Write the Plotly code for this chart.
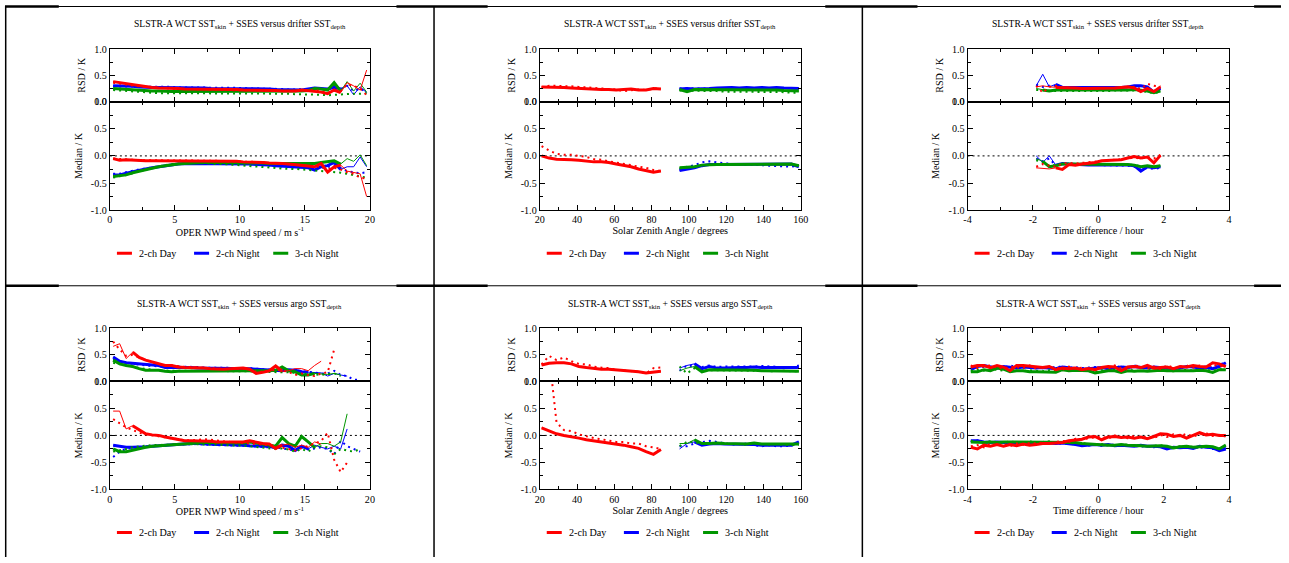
import plotly.graph_objects as go

FONT = "Liberation Serif, Times New Roman, serif"
W, H = 1289, 563
# measured mapping between page pixels and the photographed picture
SHOT_SX, SHOT_OX = 0.988, 6.3
SHOT_SY, SHOT_OY = 0.9795, 5.0
RED, BLUE, GREEN = "#ff0000", "#0000ff", "#009600"

# ---------------- x bins ----------------
WIND_X_DRIFTER = [0.25, 0.75, 1.25, 1.75, 2.25, 2.75, 3.25, 3.75, 4.25, 4.75,
                  5.25, 5.75, 6.25, 6.75, 7.25, 7.75, 8.25, 8.75, 9.25, 9.75,
                  10.25, 10.75, 11.25, 11.75, 12.25, 12.75, 13.25, 13.75, 14.25, 14.75,
                  15.25, 15.75, 16.25, 16.75, 17.25, 17.75, 18.25, 18.75, 19.25, 19.75]
WIND_X_ARGO = WIND_X_DRIFTER[:39]
SZA_DAY_X = [21, 25, 29, 33, 37, 41, 45, 49, 53, 57, 61, 65, 69, 73, 77, 81, 85]
SZA_NIGHT_X = [95, 99, 103, 107, 111, 115, 119, 123, 127, 131, 135, 139, 143, 147, 151, 155, 159]
TIME_X_DRIFTER = [-1.9, -1.7, -1.5, -1.3, -1.1, -0.9, -0.7, -0.5, -0.3, -0.1,
                  0.1, 0.3, 0.5, 0.7, 0.9, 1.1, 1.3, 1.5, 1.7, 1.9]
TIME_X_ARGO = [-3.9, -3.7, -3.5, -3.3, -3.1, -2.9, -2.7, -2.5, -2.3, -2.1,
               -1.9, -1.7, -1.5, -1.3, -1.1, -0.9, -0.7, -0.5, -0.3, -0.1,
               0.1, 0.3, 0.5, 0.7, 0.9, 1.1, 1.3, 1.5, 1.7, 1.9,
               2.1, 2.3, 2.5, 2.7, 2.9, 3.1, 3.3, 3.5, 3.7, 3.9]

# ---------------- Panel A: drifter vs wind speed ----------------
A_RSD_DAY = [0.38, 0.36, 0.35, 0.33, 0.30, 0.28, 0.27, 0.26, 0.26, 0.25,
             0.25, 0.24, 0.24, 0.24, 0.24, 0.24, 0.23, 0.23, 0.23, 0.23,
             0.22, 0.22, 0.22, 0.21, 0.21, 0.21, 0.20, 0.20, 0.20, 0.22,
             0.21, 0.20, 0.18, 0.15, 0.22, 0.17, 0.36, 0.30, 0.22, 0.60]
A_RSD_DAY_DOT = [0.36, 0.34, 0.33, 0.31, 0.29, 0.28, 0.27, 0.26, 0.25, 0.25,
                 0.24, 0.24, 0.24, 0.23, 0.23, 0.23, 0.23, 0.22, 0.22, 0.22,
                 0.22, 0.22, 0.21, 0.21, 0.21, 0.20, 0.20, 0.20, 0.21, 0.20,
                 0.21, 0.22, 0.20, 0.17, 0.20, 0.20, 0.33, 0.30, 0.25, 0.12]
A_RSD_N2 = [0.30, 0.30, 0.29, 0.29, 0.28, 0.27, 0.27, 0.27, 0.27, 0.26,
            0.26, 0.26, 0.26, 0.26, 0.26, 0.25, 0.25, 0.25, 0.25, 0.25,
            0.25, 0.25, 0.24, 0.24, 0.24, 0.23, 0.23, 0.22, 0.22, 0.22,
            0.24, 0.26, 0.25, 0.24, 0.27, 0.24, 0.30, 0.13, 0.28, 0.17]
A_RSD_N2_DOT = [0.29, 0.29, 0.28, 0.28, 0.28, 0.28, 0.28, 0.28, 0.28, 0.28,
                0.27, 0.27, 0.27, 0.27, 0.27, 0.27, 0.26, 0.26, 0.26, 0.26,
                0.26, 0.25, 0.25, 0.25, 0.24, 0.24, 0.24, 0.23, 0.23, 0.23,
                0.24, 0.24, 0.23, 0.24, 0.25, 0.24, 0.30, 0.20, 0.25, 0.18]
A_RSD_N3 = [0.25, 0.24, 0.23, 0.22, 0.21, 0.20, 0.20, 0.20, 0.19, 0.19,
            0.19, 0.19, 0.19, 0.19, 0.19, 0.19, 0.19, 0.19, 0.19, 0.19,
            0.19, 0.19, 0.19, 0.19, 0.19, 0.19, 0.19, 0.19, 0.19, 0.20,
            0.21, 0.25, 0.24, 0.22, 0.36, 0.20, 0.38, 0.20, 0.35, 0.18]
A_RSD_N3_DOT = [0.22, 0.21, 0.20, 0.19, 0.18, 0.17, 0.17, 0.16, 0.16, 0.16,
                0.16, 0.16, 0.16, 0.16, 0.16, 0.16, 0.16, 0.16, 0.16, 0.16,
                0.16, 0.16, 0.16, 0.16, 0.15, 0.15, 0.15, 0.15, 0.14, 0.14,
                0.14, 0.14, 0.13, 0.12, 0.13, 0.13, 0.14, 0.15, 0.15, 0.16]
A_MED_DAY = [-0.05, -0.08, -0.07, -0.08, -0.09, -0.09, -0.09, -0.09, -0.09, -0.09,
             -0.09, -0.09, -0.09, -0.09, -0.10, -0.10, -0.10, -0.10, -0.10, -0.10,
             -0.11, -0.11, -0.12, -0.12, -0.13, -0.13, -0.14, -0.15, -0.16, -0.17,
             -0.18, -0.20, -0.14, -0.30, -0.20, -0.17, -0.28, -0.30, -0.33, -0.75]
A_MED_DAY_DOT = [-0.05, -0.06, -0.07, -0.07, -0.08, -0.08, -0.08, -0.08, -0.08, -0.08,
                 -0.08, -0.08, -0.09, -0.09, -0.09, -0.09, -0.09, -0.10, -0.10, -0.10,
                 -0.10, -0.11, -0.11, -0.12, -0.13, -0.14, -0.15, -0.16, -0.17, -0.18,
                 -0.19, -0.20, -0.20, -0.24, -0.22, -0.25, -0.30, -0.33, -0.40, -0.42]
A_MED_N2 = [-0.35, -0.35, -0.32, -0.29, -0.26, -0.24, -0.22, -0.20, -0.18, -0.16,
            -0.15, -0.14, -0.14, -0.14, -0.14, -0.14, -0.14, -0.14, -0.14, -0.15,
            -0.15, -0.15, -0.16, -0.16, -0.17, -0.18, -0.19, -0.20, -0.21, -0.22,
            -0.22, -0.26, -0.20, -0.18, -0.12, -0.25, -0.20, -0.20, -0.02, -0.20]
A_MED_N2_DOT = [-0.33, -0.33, -0.30, -0.27, -0.25, -0.23, -0.21, -0.19, -0.17, -0.16,
                -0.15, -0.14, -0.14, -0.14, -0.14, -0.14, -0.15, -0.15, -0.15, -0.15,
                -0.15, -0.16, -0.16, -0.17, -0.18, -0.19, -0.20, -0.20, -0.21, -0.22,
                -0.22, -0.24, -0.22, -0.20, -0.18, -0.22, -0.28, -0.30, -0.32, -0.30]
A_MED_N3 = [-0.38, -0.37, -0.35, -0.31, -0.28, -0.25, -0.22, -0.20, -0.18, -0.16,
            -0.15, -0.14, -0.13, -0.12, -0.12, -0.12, -0.12, -0.12, -0.12, -0.12,
            -0.12, -0.13, -0.13, -0.13, -0.14, -0.14, -0.14, -0.15, -0.15, -0.14,
            -0.14, -0.14, -0.12, -0.10, -0.09, -0.15, -0.05, -0.10, 0.02, -0.18]
A_MED_N3_DOT = [-0.40, -0.38, -0.35, -0.32, -0.28, -0.25, -0.22, -0.19, -0.17, -0.15,
                -0.14, -0.13, -0.13, -0.13, -0.14, -0.14, -0.15, -0.15, -0.16, -0.17,
                -0.17, -0.18, -0.19, -0.20, -0.21, -0.22, -0.23, -0.24, -0.24, -0.25,
                -0.25, -0.26, -0.27, -0.28, -0.29, -0.31, -0.33, -0.35, -0.37, -0.40]
A_THICK = {"day": (0.25, 17.75), "n2": (0.25, 17.75), "n3": (0.25, 17.75)}

# ---------------- Panel D: argo vs wind speed ----------------
D_RSD_DAY = [0.66, 0.71, 0.43, 0.55, 0.45, 0.40, 0.37, 0.33, 0.30, 0.30,
             0.27, 0.26, 0.26, 0.25, 0.25, 0.24, 0.23, 0.23, 0.24, 0.24,
             0.25, 0.23, 0.15, 0.17, 0.20, 0.29, 0.19, 0.20, 0.24, 0.24,
             0.20, 0.30, 0.38, None, None, None, None, None, None]
D_RSD_DAY_DOT = [0.75, 0.60, 0.48, 0.50, 0.45, 0.40, 0.36, 0.33, 0.30, 0.30,
                 0.28, 0.27, 0.27, 0.26, 0.25, 0.25, 0.24, 0.24, 0.23, 0.24,
                 0.24, 0.22, 0.18, 0.18, 0.20, 0.22, 0.20, 0.18, 0.12, 0.15,
                 0.12, 0.10, 0.15, 0.17, 0.60, None, None, None, None]
D_RSD_N2 = [0.46, 0.38, 0.35, 0.34, 0.33, 0.32, 0.32, 0.30, 0.26, 0.26,
            0.27, 0.26, 0.26, 0.25, 0.25, 0.25, 0.25, 0.25, 0.25, 0.25,
            0.25, 0.24, 0.23, 0.22, 0.21, 0.20, 0.20, 0.22, 0.21, 0.18,
            0.17, 0.17, 0.16, 0.10, 0.15, 0.12, 0.10, None, None]
D_RSD_N2_DOT = [0.42, 0.37, 0.35, 0.33, 0.32, 0.30, 0.29, 0.28, 0.27, 0.27,
                0.28, 0.28, 0.27, 0.27, 0.26, 0.26, 0.26, 0.26, 0.25, 0.25,
                0.26, 0.25, 0.24, 0.23, 0.22, 0.21, 0.20, 0.22, 0.20, 0.19,
                0.18, 0.16, 0.15, 0.15, 0.20, 0.12, 0.10, 0.03, 0.03]
D_RSD_N3 = [0.40, 0.33, 0.30, 0.28, 0.24, 0.21, 0.21, 0.21, 0.19, 0.18,
            0.19, 0.19, 0.19, 0.19, 0.19, 0.19, 0.20, 0.20, 0.20, 0.20,
            0.20, 0.20, 0.20, 0.20, 0.20, 0.21, 0.27, 0.20, 0.18, 0.12,
            0.12, 0.15, 0.14, 0.13, 0.15, 0.12, None, None, None]
D_RSD_N3_DOT = [0.35, 0.33, 0.30, 0.28, 0.25, 0.23, 0.22, 0.21, 0.20, 0.20,
                0.20, 0.20, 0.20, 0.19, 0.19, 0.19, 0.19, 0.19, 0.19, 0.19,
                0.19, 0.19, 0.18, 0.18, 0.18, 0.18, 0.18, 0.17, 0.16, 0.15,
                0.14, 0.12, 0.12, 0.14, 0.15, 0.10, None, None, None]
D_MED_DAY = [0.45, 0.45, 0.12, 0.18, 0.10, 0.03, 0.01, 0.00, -0.03, -0.05,
             -0.08, -0.10, -0.10, -0.10, -0.10, -0.11, -0.12, -0.12, -0.12, -0.12,
             -0.12, -0.10, -0.13, -0.15, -0.16, -0.24, -0.18, -0.16, -0.22, -0.18,
             -0.22, -0.12, -0.16, None, None, None, None, None, None]
D_MED_DAY_DOT = [0.30, 0.22, 0.15, 0.10, 0.05, 0.02, 0.00, -0.02, -0.04, -0.06,
                 -0.08, -0.09, -0.09, -0.08, -0.07, -0.08, -0.10, -0.11, -0.12, -0.13,
                 -0.13, -0.14, -0.15, -0.16, -0.18, -0.20, -0.22, -0.25, -0.28, -0.24,
                 -0.20, -0.15, -0.10, 0.05, -0.45, -0.68, -0.50, None, None]
D_MED_N2 = [-0.18, -0.20, -0.22, -0.22, -0.22, -0.21, -0.20, -0.19, -0.18, -0.18,
            -0.17, -0.16, -0.15, -0.15, -0.16, -0.17, -0.17, -0.17, -0.17, -0.18,
            -0.18, -0.19, -0.20, -0.20, -0.20, -0.23, -0.18, -0.20, -0.28, -0.20,
            -0.25, -0.18, -0.22, -0.25, -0.20, -0.25, 0.12, None, None]
D_MED_N2_DOT = [-0.40, -0.30, -0.25, -0.23, -0.22, -0.21, -0.20, -0.19, -0.18, -0.18,
                -0.17, -0.17, -0.16, -0.16, -0.17, -0.18, -0.18, -0.18, -0.19, -0.19,
                -0.19, -0.20, -0.21, -0.21, -0.22, -0.22, -0.24, -0.26, -0.28, -0.22,
                -0.26, -0.24, -0.22, -0.25, -0.35, -0.10, -0.20, -0.25, -0.30]
D_MED_N3 = [-0.25, -0.30, -0.30, -0.27, -0.25, -0.22, -0.20, -0.19, -0.18, -0.17,
            -0.16, -0.15, -0.14, -0.14, -0.13, -0.13, -0.13, -0.14, -0.14, -0.14,
            -0.14, -0.12, -0.14, -0.16, -0.18, -0.20, -0.04, -0.15, -0.20, -0.02,
            -0.12, -0.22, -0.15, -0.15, -0.20, -0.12, 0.40, None, None]
D_MED_N3_DOT = [-0.30, -0.28, -0.25, -0.22, -0.20, -0.19, -0.18, -0.18, -0.17, -0.17,
                -0.16, -0.16, -0.16, -0.16, -0.16, -0.17, -0.17, -0.18, -0.18, -0.19,
                -0.19, -0.20, -0.21, -0.22, -0.23, -0.25, -0.24, -0.26, -0.30, -0.25,
                -0.30, -0.22, -0.20, -0.22, -0.35, -0.25, -0.28, -0.30, -0.25]
D_THICK = {"day": (1.75, 13.25), "n2": (0.25, 15.25), "n3": (0.25, 15.75)}

# ---------------- Panel B: drifter vs solar zenith angle ----------------
B_RSD_DAY = [0.28, 0.28, 0.27, 0.27, 0.26, 0.25, 0.24, 0.23, 0.23, 0.23, 0.22, 0.23, 0.24, 0.22, 0.22, 0.25, 0.24]
B_RSD_DAY_DOT = [0.27, 0.30, 0.30, 0.30, 0.29, 0.28, 0.27, 0.26, 0.25, 0.24, 0.23, 0.20, 0.22, 0.23, 0.22, 0.25, 0.25]
B_RSD_N2 = [0.24, 0.25, 0.24, 0.24, 0.25, 0.26, 0.27, 0.27, 0.26, 0.27, 0.26, 0.27, 0.26, 0.27, 0.26, 0.26, 0.25]
B_RSD_N2_DOT = [0.25, 0.26, 0.25, 0.25, 0.26, 0.26, 0.26, 0.26, 0.25, 0.26, 0.26, 0.25, 0.26, 0.26, 0.25, 0.26, 0.24]
B_RSD_N3 = [0.23, 0.19, 0.23, 0.23, 0.23, 0.23, 0.23, 0.23, 0.22, 0.22, 0.22, 0.22, 0.22, 0.22, 0.21, 0.21, 0.20]
B_RSD_N3_DOT = [0.21, 0.21, 0.20, 0.20, 0.20, 0.20, 0.19, 0.19, 0.19, 0.19, 0.19, 0.18, 0.18, 0.18, 0.18, 0.17, 0.17]
B_MED_DAY = [0.00, -0.04, -0.06, -0.06, -0.07, -0.08, -0.10, -0.11, -0.11, -0.12, -0.15, -0.17, -0.20, -0.24, -0.27, -0.30, -0.28]
B_MED_DAY_DOT = [0.18, 0.10, 0.04, 0.02, 0.02, 0.00, -0.02, -0.06, -0.07, -0.10, -0.12, -0.15, -0.17, -0.20, -0.22, -0.26, -0.28]
B_MED_N2 = [-0.27, -0.25, -0.22, -0.18, -0.16, -0.16, -0.16, -0.16, -0.16, -0.16, -0.16, -0.16, -0.16, -0.16, -0.16, -0.15, -0.20]
B_MED_N2_DOT = [-0.25, -0.20, -0.17, -0.12, -0.10, -0.12, -0.14, -0.15, -0.16, -0.16, -0.16, -0.17, -0.18, -0.19, -0.20, -0.20, -0.17]
B_MED_N3 = [-0.22, -0.21, -0.20, -0.17, -0.16, -0.16, -0.16, -0.16, -0.16, -0.16, -0.16, -0.15, -0.15, -0.15, -0.15, -0.15, -0.18]
B_MED_N3_DOT = [-0.23, -0.21, -0.19, -0.17, -0.16, -0.16, -0.16, -0.16, -0.16, -0.16, -0.16, -0.16, -0.16, -0.16, -0.16, -0.16, -0.19]
B_THICK = {"day": (21, 85), "n2": (95, 159), "n3": (95, 159)}

# ---------------- Panel E: argo vs solar zenith angle ----------------
E_RSD_DAY = [0.31, 0.34, 0.35, 0.35, 0.33, 0.28, 0.26, 0.24, 0.23, 0.23, 0.22, 0.21, 0.19, 0.18, 0.16, 0.17, 0.19]
E_RSD_DAY_DOT = [0.32, 0.48, 0.40, 0.45, 0.38, 0.33, 0.32, 0.28, 0.26, 0.25, 0.22, 0.21, 0.20, 0.18, 0.15, 0.25, 0.26]
E_RSD_N2 = [0.25, 0.30, 0.33, 0.24, 0.28, 0.25, 0.25, 0.26, 0.26, 0.26, 0.27, 0.26, 0.26, 0.26, 0.25, 0.25, 0.26]
E_RSD_N2_DOT = [0.20, 0.30, 0.28, 0.27, 0.30, 0.27, 0.28, 0.28, 0.28, 0.27, 0.28, 0.29, 0.28, 0.27, 0.27, 0.26, 0.30]
E_RSD_N3 = [0.20, 0.25, 0.28, 0.18, 0.22, 0.22, 0.21, 0.22, 0.21, 0.21, 0.21, 0.20, 0.20, 0.20, 0.20, 0.20, 0.19]
E_RSD_N3_DOT = [0.28, 0.15, 0.25, 0.20, 0.21, 0.21, 0.20, 0.21, 0.20, 0.21, 0.20, 0.20, 0.19, 0.20, 0.20, 0.19, 0.19]
E_MED_DAY = [0.14, 0.08, 0.03, 0.00, -0.02, -0.05, -0.08, -0.10, -0.12, -0.13, -0.15, -0.18, -0.21, -0.24, -0.30, -0.35, -0.26]
E_MED_DAY_DOT = [None, 1.50, 0.24, 0.10, 0.08, 0.02, -0.02, -0.05, -0.07, -0.10, -0.12, -0.12, -0.15, -0.15, -0.20, -0.22, -0.25]
E_MED_N2 = [-0.25, -0.15, -0.12, -0.18, -0.16, -0.15, -0.16, -0.16, -0.17, -0.16, -0.17, -0.18, -0.18, -0.19, -0.19, -0.18, -0.12]
E_MED_N2_DOT = [-0.20, -0.20, -0.15, -0.12, -0.10, -0.12, -0.15, -0.17, -0.16, -0.15, -0.18, -0.20, -0.18, -0.20, -0.20, -0.19, -0.14]
E_MED_N3 = [-0.15, -0.15, -0.08, -0.15, -0.15, -0.14, -0.15, -0.15, -0.15, -0.16, -0.14, -0.16, -0.16, -0.16, -0.17, -0.17, -0.16]
E_MED_N3_DOT = [-0.20, -0.12, -0.12, -0.16, -0.15, -0.15, -0.16, -0.15, -0.16, -0.17, -0.15, -0.16, -0.17, -0.16, -0.17, -0.18, -0.17]
E_THICK = {"day": (21, 85), "n2": (103, 159), "n3": (103, 159)}

# ---------------- Panel C: drifter vs time difference ----------------
C_RSD_DAY = [0.28, 0.30, 0.28, 0.27, 0.27, 0.26, 0.26, 0.25, 0.25, 0.25, 0.25, 0.26, 0.26, 0.27, 0.28, 0.26, 0.19, 0.25, 0.19, 0.28]
C_RSD_DAY_DOT = [0.30, 0.17, 0.28, 0.30, 0.26, 0.27, 0.25, 0.25, 0.26, 0.24, 0.25, 0.26, 0.25, 0.26, 0.27, 0.28, 0.24, 0.34, 0.30, 0.29]
C_RSD_N2 = [0.30, 0.52, 0.28, 0.33, 0.27, 0.27, 0.27, 0.26, 0.26, 0.26, 0.26, 0.27, 0.27, 0.27, 0.28, 0.30, 0.30, 0.28, 0.18, 0.25]
C_RSD_N2_DOT = [0.32, 0.28, 0.30, 0.30, 0.28, 0.28, 0.27, 0.27, 0.27, 0.26, 0.27, 0.27, 0.28, 0.27, 0.28, 0.29, 0.29, 0.26, 0.20, 0.26]
C_RSD_N3 = [0.25, 0.22, 0.20, 0.22, 0.22, 0.21, 0.21, 0.21, 0.21, 0.21, 0.21, 0.22, 0.22, 0.22, 0.22, 0.23, 0.22, 0.20, 0.17, 0.20]
C_RSD_N3_DOT = [0.22, 0.22, 0.21, 0.20, 0.20, 0.20, 0.20, 0.19, 0.20, 0.20, 0.20, 0.20, 0.21, 0.21, 0.21, 0.22, 0.21, 0.18, 0.16, 0.19]
C_MED_DAY = [-0.22, -0.23, -0.24, -0.22, -0.25, -0.16, -0.17, -0.15, -0.14, -0.12, -0.09, -0.08, -0.08, -0.07, -0.04, -0.01, -0.04, -0.02, -0.13, 0.01]
C_MED_DAY_DOT = [-0.20, -0.15, -0.18, -0.20, -0.14, -0.13, -0.14, -0.13, -0.12, -0.10, -0.09, -0.08, -0.07, -0.06, -0.05, -0.03, -0.05, -0.02, -0.05, 0.02]
C_MED_N2 = [0.00, -0.12, 0.00, -0.17, -0.14, -0.15, -0.16, -0.16, -0.17, -0.17, -0.17, -0.17, -0.17, -0.16, -0.17, -0.18, -0.28, -0.20, -0.22, -0.20]
C_MED_N2_DOT = [-0.05, -0.10, -0.05, -0.18, -0.15, -0.16, -0.17, -0.17, -0.17, -0.16, -0.17, -0.17, -0.17, -0.18, -0.18, -0.20, -0.25, -0.22, -0.24, -0.22]
C_MED_N3 = [-0.05, -0.10, -0.20, -0.18, -0.15, -0.15, -0.15, -0.16, -0.16, -0.16, -0.16, -0.16, -0.16, -0.15, -0.16, -0.17, -0.20, -0.18, -0.20, -0.18]
C_MED_N3_DOT = [-0.08, -0.12, -0.18, -0.17, -0.16, -0.15, -0.16, -0.16, -0.15, -0.16, -0.16, -0.16, -0.15, -0.15, -0.16, -0.17, -0.19, -0.19, -0.21, -0.19]
C_THICK = {"day": (-1.3, 1.9), "n2": (-1.3, 1.9), "n3": (-1.7, 1.9)}

# ---------------- Panel F: argo vs time difference ----------------
F_RSD_DAY = [0.27, 0.30, 0.30, 0.26, 0.30, 0.27, 0.20, 0.30, 0.30, 0.29,
             0.27, 0.26, 0.28, 0.22, 0.25, 0.24, 0.25, 0.22, 0.24, 0.22,
             0.26, 0.28, 0.27, 0.20, 0.27, 0.28, 0.26, 0.30, 0.25, 0.26,
             0.27, 0.24, 0.28, 0.27, 0.30, 0.28, 0.27, 0.35, 0.33, 0.28]
F_RSD_DAY_DOT = [0.30, 0.25, 0.28, 0.30, 0.26, 0.24, 0.28, 0.27, 0.25, 0.30,
                 0.24, 0.28, 0.25, 0.27, 0.22, 0.28, 0.24, 0.26, 0.22, 0.25,
                 0.28, 0.24, 0.30, 0.25, 0.22, 0.30, 0.28, 0.24, 0.28, 0.23,
                 0.30, 0.26, 0.25, 0.30, 0.26, 0.30, 0.25, 0.32, 0.28, 0.30]
F_RSD_N2 = [0.22, 0.28, 0.30, 0.27, 0.25, 0.28, 0.27, 0.25, 0.27, 0.26,
            0.25, 0.26, 0.25, 0.24, 0.27, 0.26, 0.25, 0.23, 0.24, 0.25,
            0.26, 0.24, 0.25, 0.27, 0.26, 0.28, 0.26, 0.25, 0.27, 0.26,
            0.26, 0.24, 0.25, 0.28, 0.27, 0.25, 0.26, 0.24, 0.28, 0.35]
F_RSD_N2_DOT = [0.25, 0.30, 0.27, 0.29, 0.28, 0.25, 0.30, 0.27, 0.26, 0.28,
                0.27, 0.25, 0.28, 0.26, 0.29, 0.25, 0.27, 0.25, 0.26, 0.27,
                0.24, 0.27, 0.26, 0.29, 0.25, 0.30, 0.27, 0.28, 0.25, 0.27,
                0.28, 0.22, 0.28, 0.26, 0.29, 0.27, 0.28, 0.26, 0.30, 0.38]
F_RSD_N3 = [0.18, 0.18, 0.22, 0.20, 0.25, 0.23, 0.18, 0.20, 0.20, 0.18,
            0.18, 0.18, 0.18, 0.17, 0.22, 0.20, 0.21, 0.20, 0.20, 0.16,
            0.18, 0.20, 0.20, 0.17, 0.20, 0.19, 0.20, 0.19, 0.20, 0.21,
            0.20, 0.20, 0.19, 0.20, 0.20, 0.21, 0.20, 0.17, 0.22, 0.22]
F_RSD_N3_DOT = [0.20, 0.22, 0.20, 0.23, 0.22, 0.20, 0.22, 0.21, 0.19, 0.21,
                0.20, 0.19, 0.21, 0.20, 0.23, 0.21, 0.20, 0.22, 0.19, 0.18,
                0.21, 0.20, 0.22, 0.19, 0.21, 0.21, 0.19, 0.22, 0.20, 0.22,
                0.21, 0.19, 0.21, 0.22, 0.20, 0.22, 0.21, 0.20, 0.23, 0.24]
F_MED_DAY = [-0.22, -0.25, -0.18, -0.20, -0.17, -0.20, -0.17, -0.19, -0.16, -0.18,
             -0.17, -0.15, -0.15, -0.14, -0.13, -0.10, -0.09, -0.07, -0.03, -0.02,
             -0.08, -0.03, -0.02, -0.04, -0.03, -0.05, -0.03, -0.06, -0.02, 0.03,
             0.02, -0.02, 0.00, -0.05, 0.00, 0.05, 0.01, 0.02, 0.00, 0.00]
F_MED_DAY_DOT = [-0.20, -0.18, -0.22, -0.15, -0.19, -0.16, -0.20, -0.15, -0.17, -0.14,
                 -0.15, -0.13, -0.16, -0.12, -0.10, -0.12, -0.06, -0.08, -0.05, -0.04,
                 -0.02, -0.06, 0.00, -0.03, -0.05, -0.01, -0.04, -0.02, -0.05, 0.01,
                 -0.03, 0.02, -0.01, 0.03, -0.02, 0.02, 0.04, -0.01, 0.01, -0.02]
F_MED_N2 = [-0.10, -0.10, -0.12, -0.13, -0.12, -0.13, -0.14, -0.13, -0.13, -0.15,
            -0.14, -0.13, -0.14, -0.15, -0.14, -0.15, -0.17, -0.19, -0.18, -0.17,
            -0.18, -0.17, -0.19, -0.18, -0.19, -0.20, -0.18, -0.20, -0.20, -0.21,
            -0.25, -0.22, -0.23, -0.22, -0.24, -0.20, -0.22, -0.23, -0.28, -0.25]
F_MED_N2_DOT = [-0.12, -0.09, -0.13, -0.11, -0.14, -0.12, -0.13, -0.15, -0.12, -0.14,
                -0.15, -0.12, -0.15, -0.14, -0.16, -0.14, -0.18, -0.17, -0.19, -0.16,
                -0.19, -0.18, -0.17, -0.20, -0.18, -0.19, -0.21, -0.19, -0.22, -0.20,
                -0.23, -0.24, -0.21, -0.24, -0.22, -0.23, -0.21, -0.25, -0.26, -0.23]
F_MED_N3 = [-0.12, -0.13, -0.13, -0.12, -0.13, -0.12, -0.12, -0.13, -0.12, -0.12,
            -0.12, -0.12, -0.12, -0.12, -0.13, -0.12, -0.13, -0.15, -0.16, -0.17,
            -0.17, -0.18, -0.18, -0.17, -0.18, -0.18, -0.19, -0.20, -0.19, -0.19,
            -0.20, -0.23, -0.21, -0.20, -0.22, -0.21, -0.20, -0.21, -0.25, -0.18]
F_MED_N3_DOT = [-0.10, -0.12, -0.14, -0.11, -0.12, -0.14, -0.11, -0.12, -0.14, -0.11,
                -0.13, -0.12, -0.11, -0.13, -0.12, -0.14, -0.15, -0.14, -0.16, -0.18,
                -0.16, -0.17, -0.19, -0.18, -0.17, -0.19, -0.18, -0.21, -0.20, -0.18,
                -0.21, -0.22, -0.20, -0.22, -0.21, -0.23, -0.20, -0.22, -0.24, -0.20]
F_THICK = {"day": (-3.9, 3.9), "n2": (-3.9, 3.9), "n3": (-3.9, 3.9)}

# ---------------- labels ----------------
SERIES_KEYS = ["day", "n2", "n3"]
SERIES_NAMES = {"day": "2-ch Day", "n2": "2-ch Night", "n3": "3-ch Night"}
SERIES_COLORS = {"day": RED, "n2": BLUE, "n3": GREEN}
RSD_TICKS = [0.0, 0.5, 1.0]
RSD_TICK_LABELS = ["0.0", "0.5", "1.0"]
MED_TICKS = [-1.0, -0.5, 0.0, 0.5, 1.0]
MED_TICK_LABELS = ["-1.0", "-0.5", "0.0", "0.5", "1.0"]
WIND_TICKS = [0, 5, 10, 15, 20]
SZA_TICKS = [20, 40, 60, 80, 100, 120, 140, 160]
TIME_TICKS = [-4, -2, 0, 2, 4]
TIME_TICK_LABELS = ["-4", "-2", "0", "2", "4"]
WIND_TITLE = "OPER NWP Wind speed / m s<sup>-1</sup>"
SZA_TITLE = "Solar Zenith Angle / degrees"
TIME_TITLE = "Time difference / hour"


def title_for(src):
    return "SLSTR-A WCT SST<sub>skin</sub> + SSES versus " + src + " SST<sub>depth</sub>"


PANELS = [
    dict(row=0, col=0, src="drifter", xr=[0, 20], ticks=WIND_TICKS, labels=[str(t) for t in WIND_TICKS],
         minor=2.5, xtitle=WIND_TITLE,
         series={"day": (WIND_X_DRIFTER, A_RSD_DAY, A_RSD_DAY_DOT, A_MED_DAY, A_MED_DAY_DOT),
                 "n2": (WIND_X_DRIFTER, A_RSD_N2, A_RSD_N2_DOT, A_MED_N2, A_MED_N2_DOT),
                 "n3": (WIND_X_DRIFTER, A_RSD_N3, A_RSD_N3_DOT, A_MED_N3, A_MED_N3_DOT)},
         thick=A_THICK),
    dict(row=0, col=1, src="drifter", xr=[20, 160], ticks=SZA_TICKS, labels=[str(t) for t in SZA_TICKS],
         minor=10, xtitle=SZA_TITLE,
         series={"day": (SZA_DAY_X, B_RSD_DAY, B_RSD_DAY_DOT, B_MED_DAY, B_MED_DAY_DOT),
                 "n2": (SZA_NIGHT_X, B_RSD_N2, B_RSD_N2_DOT, B_MED_N2, B_MED_N2_DOT),
                 "n3": (SZA_NIGHT_X, B_RSD_N3, B_RSD_N3_DOT, B_MED_N3, B_MED_N3_DOT)},
         thick=B_THICK),
    dict(row=0, col=2, src="drifter", xr=[-4, 4], ticks=TIME_TICKS, labels=TIME_TICK_LABELS,
         minor=1, xtitle=TIME_TITLE,
         series={"day": (TIME_X_DRIFTER, C_RSD_DAY, C_RSD_DAY_DOT, C_MED_DAY, C_MED_DAY_DOT),
                 "n2": (TIME_X_DRIFTER, C_RSD_N2, C_RSD_N2_DOT, C_MED_N2, C_MED_N2_DOT),
                 "n3": (TIME_X_DRIFTER, C_RSD_N3, C_RSD_N3_DOT, C_MED_N3, C_MED_N3_DOT)},
         thick=C_THICK),
    dict(row=1, col=0, src="argo", xr=[0, 20], ticks=WIND_TICKS, labels=[str(t) for t in WIND_TICKS],
         minor=2.5, xtitle=WIND_TITLE,
         series={"day": (WIND_X_ARGO, D_RSD_DAY, D_RSD_DAY_DOT, D_MED_DAY, D_MED_DAY_DOT),
                 "n2": (WIND_X_ARGO, D_RSD_N2, D_RSD_N2_DOT, D_MED_N2, D_MED_N2_DOT),
                 "n3": (WIND_X_ARGO, D_RSD_N3, D_RSD_N3_DOT, D_MED_N3, D_MED_N3_DOT)},
         thick=D_THICK),
    dict(row=1, col=1, src="argo", xr=[20, 160], ticks=SZA_TICKS, labels=[str(t) for t in SZA_TICKS],
         minor=10, xtitle=SZA_TITLE,
         series={"day": (SZA_DAY_X, E_RSD_DAY, E_RSD_DAY_DOT, E_MED_DAY, E_MED_DAY_DOT),
                 "n2": (SZA_NIGHT_X, E_RSD_N2, E_RSD_N2_DOT, E_MED_N2, E_MED_N2_DOT),
                 "n3": (SZA_NIGHT_X, E_RSD_N3, E_RSD_N3_DOT, E_MED_N3, E_MED_N3_DOT)},
         thick=E_THICK),
    dict(row=1, col=2, src="argo", xr=[-4, 4], ticks=TIME_TICKS, labels=TIME_TICK_LABELS,
         minor=1, xtitle=TIME_TITLE,
         series={"day": (TIME_X_ARGO, F_RSD_DAY, F_RSD_DAY_DOT, F_MED_DAY, F_MED_DAY_DOT),
                 "n2": (TIME_X_ARGO, F_RSD_N2, F_RSD_N2_DOT, F_MED_N2, F_MED_N2_DOT),
                 "n3": (TIME_X_ARGO, F_RSD_N3, F_RSD_N3_DOT, F_MED_N3, F_MED_N3_DOT)},
         thick=F_THICK),
]

for pnl in PANELS:
    for k, tup in pnl["series"].items():
        for arr in tup[1:]:
            assert len(arr) == len(tup[0]), (pnl["src"], pnl["col"], k, len(arr), len(tup[0]))

# ---------------- layout geometry (target picture pixels) ----------------
COLS = [(111, 370.5), (540, 800.5), (967, 1228)]
ROWS = [dict(rsd=(49, 101.5), med=(101.5, 210), title=23.5, legend=253),
        dict(rsd=(328, 381), med=(381, 489), title=303.5, legend=532)]
LEG_SAMPLE_OFF = [7, 84, 163]   # legend key start, relative to plot left
LEG_SAMPLE_LEN = 15
LEG_TEXT_GAP = 5
FS = 1.0 / SHOT_SX              # font scale compensation


def fx(t):
    """target picture pixel -> paper x"""
    return ((t - SHOT_OX) / SHOT_SX) / W


def fy(t):
    """target picture pixel -> paper y"""
    return 1 - ((t - SHOT_OY) / SHOT_SY) / H


def in_range(x, y, lo, hi):
    return [v if (v is not None and lo - 1e-9 <= xv <= hi + 1e-9) else None for xv, v in zip(x, y)]


fig = go.Figure()
layout = dict(width=W, height=H, margin=dict(l=0, r=0, t=0, b=0), autosize=False,
              paper_bgcolor="white", plot_bgcolor="white", showlegend=False,
              font=dict(family=FONT, size=10 * FS, color="black"))
annotations, shapes = [], []

tickfont = dict(family=FONT, size=10 * FS, color="black")
axtitlefont = dict(family=FONT, size=10 * FS, color="black")

for p, pnl in enumerate(PANELS):
    nr, nm = 2 * p + 1, 2 * p + 2
    xr_name = "x" if nr == 1 else f"x{nr}"
    yr_name = "y" if nr == 1 else f"y{nr}"
    xm_name, ym_name = f"x{nm}", f"y{nm}"
    c0, c1 = COLS[pnl["col"]]
    rw = ROWS[pnl["row"]]
    xdom = [fx(c0), fx(c1)]

    common_x = dict(domain=xdom, range=pnl["xr"], tickmode="array", tickvals=pnl["ticks"],
                    ticktext=pnl["labels"], ticks="inside", ticklen=5, tickcolor="black",
                    showline=True, linecolor="black", linewidth=1, mirror="ticks",
                    showgrid=False, zeroline=False, tickfont=tickfont,
                    minor=dict(ticks="inside", ticklen=3, tickcolor="black", dtick=pnl["minor"],
                               tick0=pnl["xr"][0], showgrid=False))
    layout["xaxis" if nr == 1 else f"xaxis{nr}"] = dict(common_x, anchor=yr_name, showticklabels=False)
    layout[f"xaxis{nm}"] = dict(common_x, anchor=ym_name, showticklabels=True,
                                title=dict(text=pnl["xtitle"], font=axtitlefont, standoff=1))
    common_y = dict(ticks="inside", ticklen=5, tickcolor="black", showline=True, linecolor="black",
                    linewidth=1, mirror="ticks", showgrid=False, zeroline=False, tickfont=tickfont,
                    tickmode="array")
    layout["yaxis" if nr == 1 else f"yaxis{nr}"] = dict(
        common_y, anchor=xr_name, domain=[fy(rw["rsd"][1]), fy(rw["rsd"][0])], range=[0, 1.0],
        tickvals=RSD_TICKS, ticktext=RSD_TICK_LABELS,
        minor=dict(ticks="inside", ticklen=3, tickcolor="black", dtick=0.25, tick0=0, showgrid=False),
        title=dict(text="RSD / K", font=axtitlefont, standoff=6))
    layout[f"yaxis{nm}"] = dict(
        common_y, anchor=xm_name, domain=[fy(rw["med"][1]), fy(rw["med"][0])], range=[-1.0, 1.0],
        tickvals=MED_TICKS, ticktext=MED_TICK_LABELS,
        minor=dict(ticks="inside", ticklen=3, tickcolor="black", dtick=0.25, tick0=0, showgrid=False),
        title=dict(text="Median / K", font=axtitlefont, standoff=6))

    # zero reference line in the median panel
    shapes.append(dict(type="line", xref=f"{xm_name} domain", yref=ym_name, x0=0, x1=1, y0=0, y1=0,
                       line=dict(color="black", width=1, dash="2px,3px"), layer="below"))

    for key in ["n2", "n3", "day"]:
        x, rsd, rsd_dot, med, med_dot = pnl["series"][key]
        lo, hi = pnl["thick"][key]
        col = SERIES_COLORS[key]
        for solid, dots, xa, ya in [(rsd, rsd_dot, xr_name, yr_name), (med, med_dot, xm_name, ym_name)]:
            fig.add_trace(go.Scatter(x=x, y=dots, mode="lines", xaxis=xa, yaxis=ya,
                                     line=dict(color=col, width=2, dash="2px,4px"),
                                     name=SERIES_NAMES[key], hoverinfo="skip"))
            fig.add_trace(go.Scatter(x=x, y=solid, mode="lines", xaxis=xa, yaxis=ya,
                                     line=dict(color=col, width=1),
                                     name=SERIES_NAMES[key], hoverinfo="skip"))
            fig.add_trace(go.Scatter(x=x, y=in_range(x, solid, lo, hi), mode="lines",
                                     xaxis=xa, yaxis=ya, line=dict(color=col, width=3),
                                     name=SERIES_NAMES[key], hoverinfo="skip"))

    # legend (key line + label) under each panel
    for i, key in enumerate(SERIES_KEYS):
        xs = c0 + LEG_SAMPLE_OFF[i]
        shapes.append(dict(type="line", xref="paper", yref="paper",
                           x0=fx(xs), x1=fx(xs + LEG_SAMPLE_LEN),
                           y0=fy(rw["legend"]), y1=fy(rw["legend"]),
                           line=dict(color=SERIES_COLORS[key], width=3)))
        annotations.append(dict(text=SERIES_NAMES[key], xref="paper", yref="paper",
                                x=fx(xs + LEG_SAMPLE_LEN + LEG_TEXT_GAP), y=fy(rw["legend"]),
                                xanchor="left", yanchor="middle", showarrow=False,
                                font=dict(family=FONT, size=10 * FS, color="black")))

    annotations.append(dict(text=title_for(pnl["src"]), xref="paper", yref="paper",
                            x=fx((c0 + c1) / 2), y=fy(rw["title"]), xanchor="center", yanchor="middle",
                            showarrow=False, font=dict(family=FONT, size=9.5 * FS, color="black")))

# ---------------- table borders ----------------
for xv in [7, 434.5, 862]:
    shapes.append(dict(type="line", xref="paper", yref="paper", x0=fx(xv), x1=fx(xv),
                       y0=fy(6), y1=0, line=dict(color="black", width=1.5)))
for yv in [6.5, 285.5]:
    shapes.append(dict(type="line", xref="paper", yref="paper", x0=0, x1=1, y0=fy(yv), y1=fy(yv),
                       line=dict(color="black", width=1)))
    for a, b in [(0, 60), (397, 488), (825, 917), (1253, 1289)]:
        shapes.append(dict(type="line", xref="paper", yref="paper", x0=max(fx(a), 0), x1=min(fx(b), 1),
                           y0=fy(yv), y1=fy(yv), line=dict(color="black", width=2.5)))

layout["annotations"] = annotations
layout["shapes"] = shapes
fig.update_layout(**layout)
fig.write_html("out.html", config={"displayModeBar": False},
               post_script="document.body.style.margin='0';document.body.style.overflow='hidden';")
